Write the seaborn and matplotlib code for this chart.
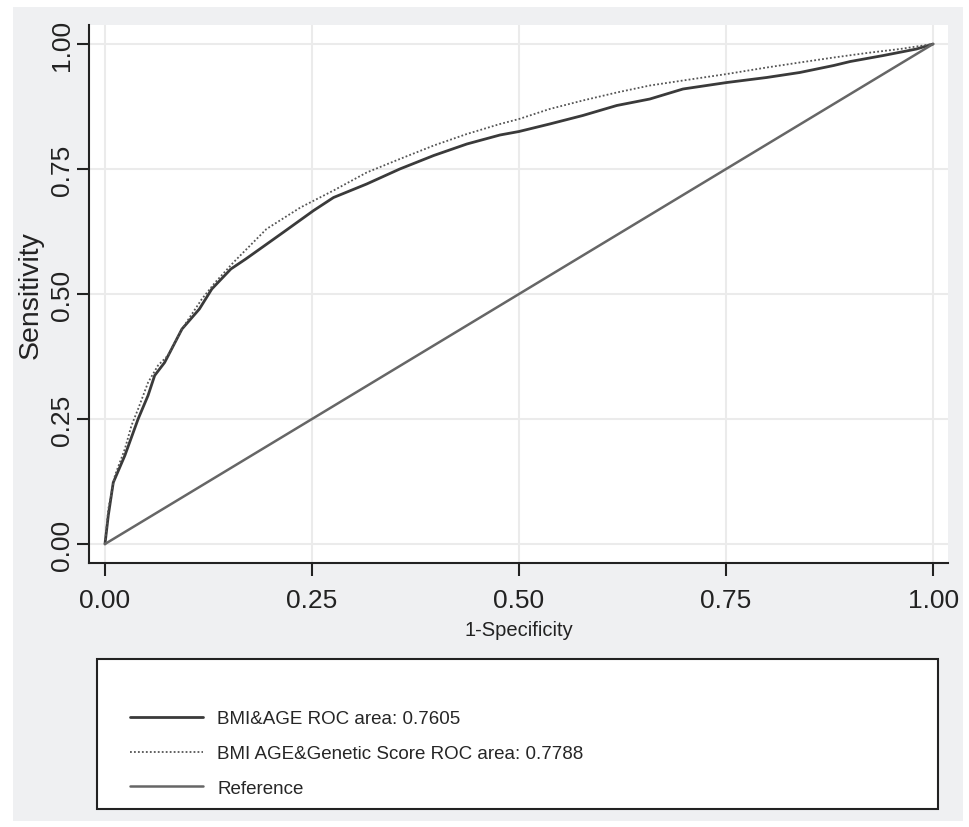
import matplotlib
matplotlib.use("Agg")
import matplotlib.pyplot as plt
from matplotlib.patches import Rectangle
import seaborn as sns
import pandas as pd

# %%
# BMI & AGE model (solid)
fpr_age = [0, 0.004, 0.010, 0.024, 0.040, 0.052, 0.060, 0.072, 0.093, 0.114, 0.129, 0.152,
           0.170, 0.187, 0.215, 0.252, 0.276, 0.316, 0.356, 0.397, 0.437, 0.477, 0.500,
           0.537, 0.577, 0.618, 0.658, 0.698, 0.751, 0.799, 0.839, 0.880, 0.900, 0.940,
           0.980, 1.0]
tpr_age = [0, 0.057, 0.123, 0.177, 0.250, 0.297, 0.337, 0.363, 0.430, 0.470, 0.510, 0.550,
           0.570, 0.590, 0.623, 0.667, 0.693, 0.720, 0.750, 0.777, 0.800, 0.818, 0.825,
           0.840, 0.857, 0.877, 0.890, 0.910, 0.923, 0.933, 0.943, 0.957, 0.965, 0.977,
           0.990, 1.0]

# BMI, AGE & genetic score model (dotted)
fpr_gen = [0, 0.004, 0.012, 0.024, 0.032, 0.040, 0.052, 0.064, 0.076, 0.093, 0.117, 0.133,
           0.155, 0.195, 0.236, 0.276, 0.316, 0.356, 0.397, 0.437, 0.477, 0.500, 0.537,
           0.577, 0.618, 0.658, 0.698, 0.751, 0.799, 0.839, 0.880, 0.920, 0.960, 1.0]
tpr_gen = [0, 0.070, 0.137, 0.190, 0.237, 0.270, 0.323, 0.357, 0.377, 0.430, 0.490, 0.523,
           0.563, 0.630, 0.673, 0.707, 0.743, 0.770, 0.797, 0.820, 0.840, 0.850, 0.870,
           0.887, 0.903, 0.917, 0.927, 0.940, 0.953, 0.963, 0.973, 0.982, 0.990, 1.0]

ref_x = [0, 1]
ref_y = [0, 1]

labels = ["BMI&AGE ROC area: 0.7605",
          "BMI AGE&Genetic Score ROC area: 0.7788",
          "Reference"]
ticks = [0, 0.25, 0.5, 0.75, 1.0]
tick_labels = ["0.00", "0.25", "0.50", "0.75", "1.00"]

# %%
sns.set_theme(style="whitegrid")
plt.rcParams['font.family'] = ['Liberation Sans', 'DejaVu Sans']

W, H = 969, 828
fig = plt.figure(figsize=(W / 100, H / 100), dpi=100, facecolor="white")

# grey panel behind everything
fig.patches.append(Rectangle((13 / W, 1 - 822 / H), 950 / W, 814 / H,
                             transform=fig.transFigure, facecolor="#eff0f2",
                             edgecolor="none", zorder=-2))

ax = fig.add_axes([89 / W, 1 - 564 / H, (948 - 89) / W, (564 - 26) / H])
ax.set_zorder(2)
ax.set_facecolor("white")

df_age = pd.DataFrame({"x": fpr_age, "y": tpr_age})
df_gen = pd.DataFrame({"x": fpr_gen, "y": tpr_gen})
df_ref = pd.DataFrame({"x": ref_x, "y": ref_y})

sns.lineplot(data=df_age, x="x", y="y", sort=False, estimator=None, ax=ax,
             color="#3a3a3a", linewidth=2.0, label=labels[0])
sns.lineplot(data=df_gen, x="x", y="y", sort=False, estimator=None, ax=ax,
             color="#555555", linewidth=1.3, linestyle=(0, (1, 1.2)), label=labels[1])
sns.lineplot(data=df_ref, x="x", y="y", sort=False, estimator=None, ax=ax,
             color="#666666", linewidth=1.8, label=labels[2])

ax.set_xlim(-0.0193, 1.018)
ax.set_ylim(-0.038, 1.038)
ax.set_xticks(ticks)
ax.set_xticklabels(tick_labels)
ax.set_yticks(ticks)
ax.set_yticklabels(tick_labels, rotation=90, va="center")
ax.tick_params(axis="both", direction="out", length=9, width=1.5, color="#222222",
               labelsize=19, labelcolor="#222222", bottom=True, left=True)
ax.tick_params(axis="x", pad=9)
ax.tick_params(axis="y", pad=2)
ax.grid(True, color="#ebebeb", linewidth=1.5)
for side in ["top", "right"]:
    ax.spines[side].set_visible(False)
for side in ["left", "bottom"]:
    ax.spines[side].set_color("#222222")
    ax.spines[side].set_linewidth(1.5)

ax.set_xlabel("1-Specificity", fontsize=14.5, color="#222222", labelpad=6)
ax.set_ylabel("Sensitivity", fontsize=20.5, color="#222222", labelpad=4)

# legend box
fig.patches.append(Rectangle((97 / W, 1 - 810 / H), (938 - 97) / W, 150 / H,
                             transform=fig.transFigure, facecolor="white",
                             edgecolor="#222222", linewidth=1.5, zorder=-1))
handles, lbls = ax.get_legend_handles_labels()
ax.get_legend().remove()
fig.legend(handles, lbls, loc="upper left", bbox_to_anchor=(130 / W, 1 - 711 / H),
           frameon=False, fontsize=13.5, handlelength=3.9, handletextpad=0.75,
           labelspacing=0.95, borderaxespad=0, borderpad=0)

fig.savefig("out.png", dpi=100, facecolor="white")
